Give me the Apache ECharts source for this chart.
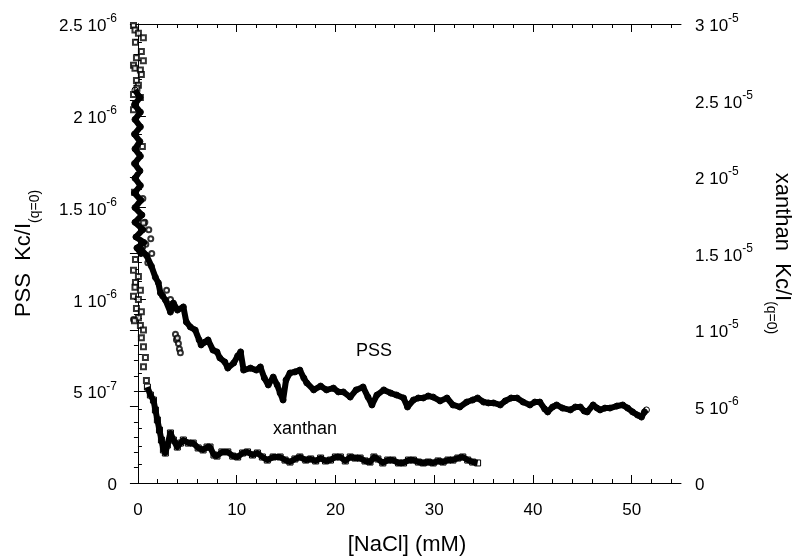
<!DOCTYPE html>
<html><head><meta charset="utf-8">
<script src="https://cdn.jsdelivr.net/npm/echarts@6/dist/echarts.min.js"></script>
<style>html,body{margin:0;padding:0;background:#fff}#c{width:793px;height:559px}</style>
</head><body><div id="c"></div>
<script>
// ---------- DATA ----------
// PSS (left axis): dense column near 0 mM followed by the continuous curve
const pssX = [-0.3,0.2,-0.35,0.25,-0.3,0.25,-0.35,0.2,-0.3,0.25,-0.35,0.2,-0.3,0.25,-0.35,0.3,-0.3,0.4,-0.3,0.5,-0.2,0.6,-0.1,0.3,
  0.35,0.86,1.37,1.77,2.07,2.28,2.78,3.29,3.59,4.0,4.6,4.9,5.3,5.8,6.2,6.4,6.8,7.1,7.6,8.0,8.3,8.8,9.1,9.7,10.1,10.4,10.7,11.4,12.0,12.4,12.8,13.2,13.7,14.1,14.4,14.7,15.0,15.4,15.9,16.4,16.8,17.1,17.8,18.5,19.1,19.8,20.3,20.8,21.5,22.1,22.8,23.3,23.7,24.2,24.9,25.6,26.2,26.9,27.3,27.9,28.4,28.9,29.4,29.9,30.6,31.3,31.9,32.6,33.3,33.9,34.4,35.0,35.5,36.0,36.7,37.2,37.8,38.4,39.0,39.7,40.2,40.7,41.2,41.5,42.0,42.4,43.0,43.8,44.3,44.8,45.2,45.5,46.1,46.5,46.8,47.3,47.8,48.5,49.1,49.6,50.1,50.6,51.0,51.3,51.5];
const pssY = [21.4e-7,21.0e-7,20.6e-7,20.2e-7,19.8e-7,19.4e-7,19.0e-7,18.6e-7,18.2e-7,17.8e-7,17.4e-7,17.0e-7,16.6e-7,16.2e-7,15.8e-7,15.4e-7,15.0e-7,14.6e-7,14.2e-7,13.8e-7,13.4e-7,13.1e-7,12.8e-7,12.5e-7,
  12.7e-7,12.4e-7,11.8e-7,11.2e-7,10.9e-7,10.35e-7,9.97e-7,9.31e-7,9.80e-7,9.42e-7,9.59e-7,8.77e-7,8.50e-7,8.33e-7,7.79e-7,7.52e-7,7.68e-7,7.79e-7,7.24e-7,7.14e-7,6.81e-7,6.59e-7,6.26e-7,6.54e-7,6.92e-7,7.14e-7,6.15e-7,6.26e-7,6.15e-7,6.32e-7,5.72e-7,5.34e-7,5.77e-7,5.34e-7,4.90e-7,4.52e-7,5.61e-7,5.99e-7,6.05e-7,6.15e-7,5.72e-7,5.45e-7,5.07e-7,5.28e-7,5.07e-7,5.17e-7,4.96e-7,4.96e-7,4.68e-7,5.07e-7,5.23e-7,4.68e-7,4.25e-7,4.79e-7,5.07e-7,4.90e-7,4.79e-7,4.63e-7,4.14e-7,4.52e-7,4.63e-7,4.63e-7,4.74e-7,4.68e-7,4.47e-7,4.63e-7,4.25e-7,4.14e-7,4.41e-7,4.52e-7,4.63e-7,4.41e-7,4.36e-7,4.36e-7,4.25e-7,4.47e-7,4.63e-7,4.63e-7,4.41e-7,4.25e-7,4.41e-7,4.41e-7,4.03e-7,3.87e-7,4.14e-7,4.25e-7,4.08e-7,3.98e-7,4.14e-7,4.14e-7,3.92e-7,3.87e-7,4.25e-7,4.08e-7,3.98e-7,4.08e-7,4.08e-7,4.19e-7,4.25e-7,4.08e-7,3.87e-7,3.70e-7,3.59e-7,3.87e-7,3.98e-7];
// PSS isolated points near low salt
const pssSparseX = [-0.45,1.1,1.3,0.8,1.4,1.0,2.5,3.8,3.9,4.0,4.1,4.2,4.3,3.3,2.9,0.7,0.5];
const pssSparseY = [8.9e-7,13.8e-7,13.3e-7,13.0e-7,12.5e-7,12.0e-7,10.2e-7,8.1e-7,7.8e-7,7.9e-7,7.6e-7,7.3e-7,7.1e-7,10.0e-7,10.5e-7,14.2e-7,15.5e-7];
// xanthan (right axis): isolated points of the steep drop near 0 mM
const xanSparseX = [-0.45,-0.3,0.05,0.55,-0.25,0.35,-0.15,0.55,-0.45,-0.3,0.25,0.35,-0.15,0.05,-0.45,0.25,-0.25,-0.45,-0.1,
  0.45,-0.35,0.55,0.45,
  -0.25,-0.45,0.05,-0.25,0.25,-0.45,0.05,-0.15,0.35,0.05,0.25,0.56,0.35,0.56,0.76,0.56,0.86,-0.35,-0.3];
const xanSparseY = [29.9e-6,29.6e-6,29.4e-6,29.1e-6,28.8e-6,28.2e-6,27.8e-6,27.6e-6,27.3e-6,27.1e-6,27.0e-6,26.7e-6,26.3e-6,26.0e-6,25.4e-6,25.2e-6,24.8e-6,24.4e-6,25.8e-6,
  22.0e-6,19.0e-6,17.0e-6,15.5e-6,
  14.6e-6,13.9e-6,13.5e-6,13.1e-6,12.6e-6,12.2e-6,12.0e-6,11.4e-6,11.2e-6,10.8e-6,10.3e-6,10.0e-6,9.5e-6,8.9e-6,8.2e-6,7.6e-6,6.7e-6,10.6e-6,12.8e-6];
// xanthan continuous curve
const xanX = [0.96,1.26,1.57,1.77,1.97,2.18,2.38,2.58,2.78,2.98,3.29,3.59,3.99,4.3,4.6,5.1,5.6,6.1,6.6,7.0,7.3,7.7,8.0,8.5,9.1,9.6,10.1,10.6,11.1,11.6,12.1,12.6,13.1,13.7,14.4,14.9,15.4,15.9,16.4,17.0,17.5,18.0,18.5,19.0,19.5,20.0,20.5,21.0,21.5,22.0,22.5,23.0,23.5,23.9,24.3,24.8,25.3,25.8,26.4,26.9,27.4,27.9,28.4,28.9,29.4,29.9,30.4,30.9,31.4,31.9,32.4,32.9,33.4,33.9,34.4];
const xanY = [6.27e-6,5.75e-6,5.42e-6,4.77e-6,4.12e-6,3.46e-6,2.81e-6,2.16e-6,1.96e-6,2.48e-6,3.27e-6,2.81e-6,2.35e-6,2.61e-6,2.81e-6,2.61e-6,2.61e-6,2.29e-6,2.16e-6,2.35e-6,2.35e-6,1.83e-6,1.76e-6,2.03e-6,2.03e-6,1.76e-6,1.70e-6,1.96e-6,2.03e-6,1.83e-6,1.96e-6,1.70e-6,1.50e-6,1.70e-6,1.70e-6,1.50e-6,1.37e-6,1.57e-6,1.70e-6,1.50e-6,1.57e-6,1.44e-6,1.63e-6,1.44e-6,1.50e-6,1.70e-6,1.70e-6,1.44e-6,1.70e-6,1.63e-6,1.63e-6,1.44e-6,1.37e-6,1.70e-6,1.57e-6,1.31e-6,1.50e-6,1.50e-6,1.31e-6,1.31e-6,1.50e-6,1.50e-6,1.37e-6,1.31e-6,1.37e-6,1.31e-6,1.44e-6,1.37e-6,1.50e-6,1.50e-6,1.63e-6,1.70e-6,1.50e-6,1.37e-6,1.31e-6];

// ticks
const xTickValues = [0,10,20,30,40,50];
const xMinorTickValues = [2,4,6,8,12,14,16,18,22,24,26,28,32,34,36,38,42,44,46,48,52,54];
const leftTickMant = ['0','5 10','1 10','1.5 10','2 10','2.5 10'];
const leftTickExp  = ['','-7','-6','-6','-6','-6'];
const rightTickMant = ['0','5 10','1 10','1.5 10','2 10','2.5 10','3 10'];
const rightTickExp  = ['','-6','-5','-5','-5','-5','-5'];

// ---------- CHART ----------
const zip = (a, b) => a.map((v, i) => [v, b[i]]);
const FF = 'Liberation Sans, Arial, sans-serif';
const black = '#000';
const supRich = {
  m: { fontSize: 17, fontFamily: FF, color: black, padding: [5, 0, 0, 0], verticalAlign: 'bottom' },
  e: { fontSize: 12, fontFamily: FF, color: black, verticalAlign: 'top' }
};
function expLabel(mant, exp) {
  return exp ? '{m|' + mant + '}{e|' + exp + '}' : '{m|' + mant + '}';
}
const axisLineStyle = { show: true, lineStyle: { color: black, width: 1 } };
const titleRich = {
  m: { fontSize: 22, fontFamily: FF, color: black, padding: [0, 0, 7, 0], verticalAlign: 'top' },
  s: { fontSize: 14, fontFamily: FF, color: black, verticalAlign: 'bottom' }
};

const chart = echarts.init(document.getElementById('c'), null, { renderer: 'canvas' });
const xCommon = { type: 'value', min: -0.5, max: 55, splitLine: { show: false } };
chart.setOption({
  animation: false,
  backgroundColor: '#fff',
  grid: { left: 133, right: 112, top: 24, bottom: 76, containLabel: false, outerBoundsMode: 'none' },
  xAxis: [
    Object.assign({}, xCommon, {
      position: 'bottom',
      axisLine: axisLineStyle,
      axisTick: { show: true, inside: true, length: 8, customValues: xTickValues, lineStyle: { color: black } },
      axisLabel: { show: true, customValues: xTickValues, fontSize: 17, fontFamily: FF, color: black, margin: 19 },
      name: '[NaCl] (mM)', nameLocation: 'middle', nameGap: 51,
      nameTextStyle: { fontSize: 22, fontFamily: FF, color: black }
    }),
    Object.assign({}, xCommon, {
      position: 'bottom', axisLine: { show: false },
      axisTick: { show: true, inside: true, length: 4, customValues: xMinorTickValues, lineStyle: { color: black } },
      axisLabel: { show: false }
    }),
    Object.assign({}, xCommon, {
      position: 'top', axisLine: axisLineStyle,
      axisTick: { show: true, inside: true, length: 8, customValues: xTickValues, lineStyle: { color: black } },
      axisLabel: { show: false }
    }),
    Object.assign({}, xCommon, {
      position: 'top', axisLine: { show: false },
      axisTick: { show: true, inside: true, length: 4, customValues: xMinorTickValues, lineStyle: { color: black } },
      axisLabel: { show: false }
    })
  ],
  yAxis: [
    {
      type: 'value', position: 'left', min: 0, max: 2.5e-6, interval: 5e-7,
      splitLine: { show: false },
      axisLine: axisLineStyle,
      axisTick: { show: true, inside: true, length: 8, lineStyle: { color: black } },
      minorTick: { show: true, splitNumber: 5, length: 4, lineStyle: { color: black } },
      axisLabel: {
        margin: 16,
        formatter: function (v) { const i = Math.round(v / 5e-7); return expLabel(leftTickMant[i], leftTickExp[i]); },
        rich: supRich
      },
      name: '{m|PSS  Kc/I}{s|(q=0)}', nameLocation: 'middle', nameRotate: 90, nameGap: 91,
      nameTextStyle: { rich: titleRich }
    },
    {
      type: 'value', position: 'right', min: 0, max: 3e-5, interval: 5e-6,
      splitLine: { show: false },
      axisLine: axisLineStyle,
      axisTick: { show: true, inside: true, length: 8, lineStyle: { color: black } },
      minorTick: { show: true, splitNumber: 5, length: 4, lineStyle: { color: black } },
      axisLabel: {
        margin: 14,
        formatter: function (v) { const i = Math.round(v / 5e-6); return expLabel(rightTickMant[i], rightTickExp[i]); },
        rich: supRich
      },
      name: '{m|xanthan  Kc/I}{s|(q=0)}', nameLocation: 'middle', nameRotate: -90, nameGap: 80,
      nameTextStyle: { rich: titleRich }
    }
  ],
  series: [
    {
      name: 'PSS', type: 'line', xAxisIndex: 0, yAxisIndex: 0, data: zip(pssX, pssY),
      symbol: 'circle', symbolSize: 6, showAllSymbol: true,
      lineStyle: { color: black, width: 6, join: 'round' },
      itemStyle: { color: 'rgba(0,0,0,0)', borderColor: black, borderWidth: 1 },
      z: 3
    },
    {
      name: 'PSS sparse', type: 'scatter', xAxisIndex: 0, yAxisIndex: 0, data: zip(pssSparseX, pssSparseY),
      symbol: 'emptyCircle', symbolSize: 5,
      itemStyle: { color: black, borderColor: black, borderWidth: 1 },
      z: 2
    },
    {
      name: 'xanthan', type: 'line', xAxisIndex: 0, yAxisIndex: 1, data: zip(xanX, xanY),
      symbol: 'rect', symbolSize: 6, showAllSymbol: true,
      lineStyle: { color: black, width: 6, join: 'round' },
      itemStyle: { color: 'rgba(0,0,0,0)', borderColor: black, borderWidth: 1 },
      z: 3
    },
    {
      name: 'xanthan sparse', type: 'scatter', xAxisIndex: 0, yAxisIndex: 1, data: zip(xanSparseX, xanSparseY),
      symbol: 'emptyRect', symbolSize: 5,
      itemStyle: { color: black, borderColor: black, borderWidth: 1 },
      z: 2
    }
  ],
  graphic: [
    { type: 'text', left: 356, top: 342, style: { text: 'PSS', fontSize: 18, fontFamily: FF, fill: black } },
    { type: 'text', left: 273, top: 420, style: { text: 'xanthan', fontSize: 18, fontFamily: FF, fill: black } }
  ]
});
</script>
</body></html>
